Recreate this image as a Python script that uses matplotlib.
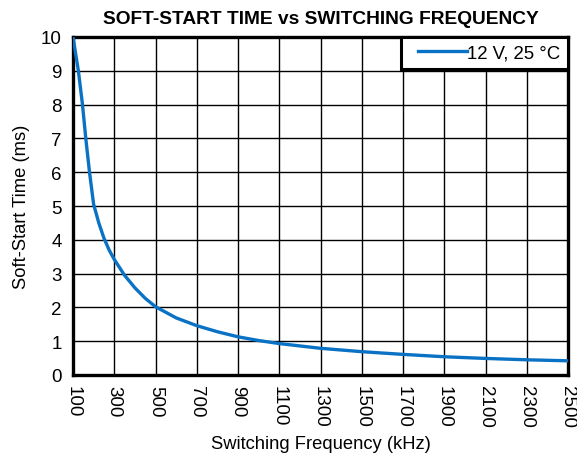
import matplotlib
matplotlib.use("Agg")
import matplotlib.pyplot as plt
from matplotlib.legend_handler import HandlerLine2D
from matplotlib.lines import Line2D

freq_khz = [100, 126, 146, 162, 180, 200, 225, 250, 275, 300, 350, 400, 450, 500, 600, 700,
            800, 900, 1000, 1100, 1300, 1500, 1700, 1900, 2100, 2300, 2500]
soft_start_ms = [10.0, 9.0, 8.0, 7.0, 6.0, 5.05, 4.5, 4.05, 3.70, 3.42, 2.95, 2.58, 2.27, 2.02, 1.69, 1.46,
                 1.28, 1.13, 1.02, 0.93, 0.79, 0.69, 0.61, 0.54, 0.49, 0.45, 0.42]
x_ticks = list(range(100, 2501, 200))
y_ticks = list(range(0, 11))

plt.rcParams['font.family'] = ['Liberation Sans', 'DejaVu Sans']


class OffsetLineHandler(HandlerLine2D):
    def create_artists(self, legend, orig_handle, xdescent, ydescent, width, height,
                       fontsize, trans):
        arts = super().create_artists(legend, orig_handle, xdescent, ydescent, width,
                                      height, fontsize, trans)
        for a in arts:
            if isinstance(a, Line2D):
                xd = list(a.get_xdata())
                if len(xd) >= 2:
                    x0, x1 = xd[0], xd[-1]
                    a.set_xdata([x0 + (x1 - x0) * 0.16 + (xi - x0) * 0.84 for xi in xd])
        return arts


fig = plt.figure(figsize=(5.77, 4.6), dpi=100)
ax = fig.add_axes([73/577, 1 - 376/460, (568-73)/577, (376-38)/460])

line, = ax.plot(freq_khz, soft_start_ms, color='#0a72c4', lw=2.4, label='12 V, 25 °C',
                zorder=3, solid_joinstyle='round')

ax.set_xlim(100, 2500)
ax.set_ylim(0, 10)
ax.set_xticks(x_ticks)
ax.set_yticks(y_ticks)
ax.set_xticklabels([str(t) for t in x_ticks], rotation=270, fontsize=13.5)
ax.set_yticklabels([str(t) for t in y_ticks], fontsize=13.5)
ax.tick_params(axis='x', length=0, pad=7)
ax.tick_params(axis='y', length=0, pad=8)
ax.grid(True, color='black', lw=1.0, zorder=1)
for s in ax.spines.values():
    s.set_linewidth(2.4)
    s.set_color('black')

ax.set_xlabel('Switching Frequency (kHz)', fontsize=13.2, labelpad=6)
ax.set_ylabel('Soft-Start Time (ms)', fontsize=13.2, labelpad=8)
ax.set_title('SOFT-START TIME vs SWITCHING FREQUENCY', fontsize=13.8, fontweight='bold', pad=10)

leg = ax.legend(loc='upper right', borderaxespad=0, fancybox=False, framealpha=1,
                edgecolor='black', fontsize=13.4, handlelength=3.15, handletextpad=0,
                borderpad=0.4, handler_map={line: OffsetLineHandler()})
leg.get_frame().set_linewidth(2.2)
leg.set_zorder(5)

fig.savefig('out.png', dpi=100)
